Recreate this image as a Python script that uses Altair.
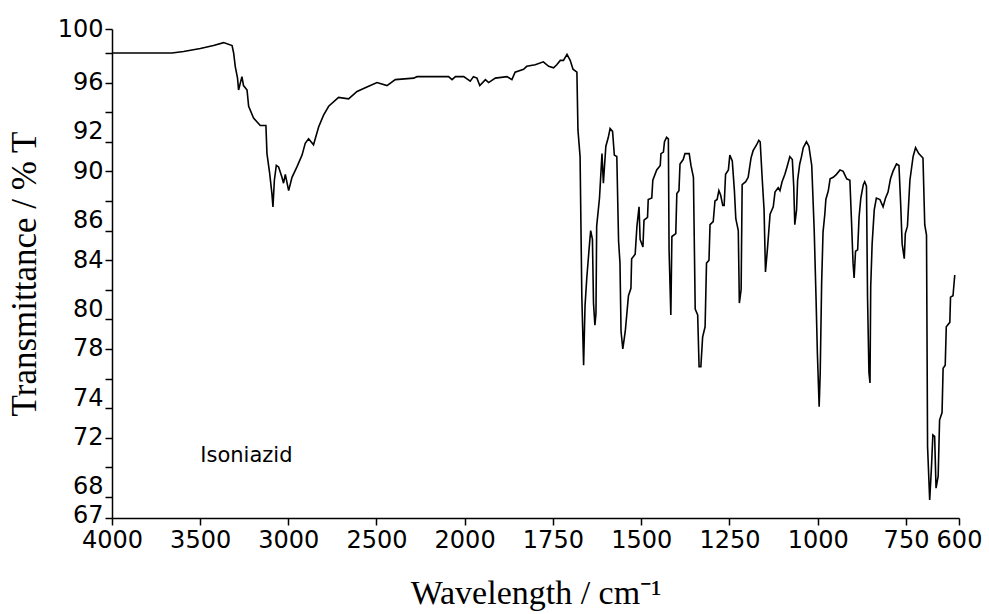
import altair as alt
import pandas as pd

# IR spectrum of isoniazid: wavenumber (cm-1) and transmittance (%T)
wavenumber = [
    4000, 3660, 3594, 3499, 3424, 3367, 3319, 3310, 3301, 3288, 3282, 3263, 3254, 3234,
    3225, 3197, 3159, 3127, 3121, 3106, 3093, 3087, 3079, 3068, 3055, 3036, 3027, 3017,
    2998, 2979, 2951, 2922, 2904, 2885, 2857, 2828, 2800, 2771, 2715, 2658, 2610, 2554,
    2497, 2440, 2393, 2289, 2270, 2091, 2071, 2052, 2005, 1984, 1975, 1965, 1957, 1941,
    1932, 1913, 1880, 1866, 1857, 1833, 1824, 1800, 1777, 1762, 1748, 1739, 1729, 1720,
    1710, 1701, 1693, 1682, 1679, 1673, 1668, 1663, 1659, 1654, 1647, 1643, 1638, 1635,
    1631, 1628, 1626, 1618, 1614, 1611, 1607, 1604, 1600, 1593, 1588, 1581, 1576, 1569,
    1564, 1560, 1557, 1552, 1545, 1536, 1529, 1527, 1517, 1512, 1506, 1503, 1495, 1492,
    1482, 1480, 1470, 1467, 1456, 1446, 1444, 1437, 1434, 1428, 1423, 1421, 1416, 1413,
    1402, 1399, 1393, 1390, 1381, 1376, 1364, 1359, 1352, 1347, 1340, 1336, 1331, 1326,
    1319, 1315, 1308, 1305, 1296, 1291, 1285, 1280, 1275, 1269, 1265, 1261, 1253, 1249,
    1242, 1236, 1232, 1225, 1222, 1217, 1214, 1204, 1197, 1189, 1183, 1173, 1167, 1163,
    1157, 1152, 1148, 1142, 1135, 1126, 1121, 1112, 1107, 1101, 1093, 1087, 1079, 1072,
    1068, 1065, 1060, 1057, 1051, 1046, 1041, 1032, 1025, 1017, 1010, 1005, 1001, 996,
    993, 989, 985, 980, 977, 970, 965, 956, 947, 937, 928, 918, 909, 904,
    900, 897, 893, 887, 883, 878, 871, 867, 862, 859, 855, 852, 850, 846,
    840, 834, 824, 815, 808, 801, 794, 787, 777, 770, 765, 761, 755, 752,
    746, 739, 730, 723, 714, 702, 697, 692, 689, 683, 678, 674, 669, 665,
    659, 655, 648, 645, 639, 636, 626, 624, 617, 612,
]
transmittance = [
    98.0, 98.0, 98.1, 98.3, 98.5, 98.7, 98.5, 98.0, 97.1, 96.3, 95.5, 96.4, 95.8, 95.5,
    94.4, 93.6, 93.1, 93.1, 91.2, 89.9, 88.5, 87.6, 89.4, 90.4, 90.3, 89.6, 89.2, 89.8,
    88.7, 89.6, 90.3, 91.1, 91.9, 92.2, 91.8, 93.0, 93.8, 94.4, 95.0, 94.9, 95.4, 95.7,
    96.0, 95.8, 96.2, 96.3, 96.4, 96.4, 96.2, 96.4, 96.4, 96.1, 96.4, 96.3, 95.8, 96.2,
    96.0, 96.3, 96.4, 96.2, 96.7, 96.9, 97.1, 97.2, 97.4, 97.1, 97.0, 97.2, 97.5, 97.5,
    97.9, 97.5, 96.9, 96.7, 92.8, 91.0, 81.5, 76.9, 80.9, 82.8, 84.9, 86.0, 85.4, 81.1,
    79.6, 80.4, 86.3, 88.2, 89.9, 91.2, 89.2, 90.3, 91.7, 92.3, 92.9, 92.7, 91.1, 91.0,
    85.3, 83.8, 79.2, 78.0, 79.2, 81.6, 82.1, 84.1, 84.4, 86.3, 87.6, 85.4, 84.9, 86.7,
    86.9, 88.1, 88.2, 89.4, 90.1, 90.4, 91.2, 91.3, 92.0, 92.3, 92.2, 84.7, 80.3, 85.6,
    85.8, 88.5, 88.7, 90.5, 90.8, 91.2, 91.2, 90.4, 89.6, 80.7, 80.3, 76.8, 76.8, 78.8,
    79.5, 83.8, 84.0, 86.4, 86.6, 88.0, 88.1, 88.7, 88.4, 87.7, 87.7, 89.8, 90.1, 91.1,
    90.7, 88.7, 86.8, 86.0, 81.1, 82.0, 89.1, 89.3, 89.6, 90.9, 91.4, 91.8, 92.1, 92.0,
    89.4, 87.4, 83.2, 84.9, 87.1, 87.6, 88.6, 88.9, 88.7, 89.3, 89.8, 90.3, 91.0, 90.8,
    89.0, 86.4, 87.4, 89.4, 90.5, 91.0, 91.6, 92.0, 91.7, 90.4, 86.0, 81.6, 77.7, 74.1,
    76.4, 82.4, 85.9, 87.1, 88.1, 88.7, 89.5, 89.6, 89.8, 90.1, 90.0, 89.5, 89.4, 86.4,
    83.8, 82.8, 84.6, 84.7, 86.9, 88.2, 89.1, 89.3, 89.0, 81.5, 76.4, 75.7, 82.2, 85.1,
    87.4, 88.2, 88.1, 87.6, 88.2, 88.6, 89.5, 90.0, 90.5, 90.4, 87.7, 85.1, 84.1, 85.8,
    86.3, 89.4, 91.0, 91.6, 91.2, 90.9, 86.4, 85.7, 71.4, 67.8, 70.0, 72.2, 72.1, 68.6,
    69.4, 73.2, 73.7, 76.7, 76.9, 79.5, 79.8, 81.5, 81.6, 83.0,
]

x_ticks = [4000, 3500, 3000, 2500, 2000, 1750, 1500, 1250, 1000, 750, 600]
y_min, y_max = 66.58, 99.62
y_ticks = [y_min] + list(range(68, 99, 2)) + [y_max]
y_hidden = [98, 94, 88, 82, 76, 70]
y_raised = [92, 86, 80, 74, 68]   # labels that sit just above their tick

sample_name = "Isoniazid"
sample_pos = (3499, 70.8)

spectrum = pd.DataFrame({
    "order": range(len(wavenumber)),
    "wavenumber": wavenumber,
    "transmittance": transmittance,
})

W, H = 847, 489
# wavenumber axis is compressed twofold above 2000 cm-1
x_scale = alt.Scale(domain=[4000, 2000, 600], range=[0, 352.6, W], nice=False, zero=False)
y_scale = alt.Scale(domain=[y_min, y_max], nice=False, zero=False)

x_axis = alt.Axis(
    values=x_ticks, format="d", title="Wavelength / cm⁻¹",
    labelFont="DejaVu Sans", labelFontSize=24, labelColor="black", labelPadding=3,
    labelFlush=False, labelOverlap=False,
    tickSize=7, tickColor="black", tickWidth=1.5, domainColor="black", domainWidth=1.5,
    grid=False, titleFont="Liberation Serif", titleFontSize=34, titleFontWeight="normal",
    titleColor="black", titlePadding=24,
)
y_axis = alt.Axis(
    values=y_ticks,
    labelExpr="indexof(" + str(y_hidden) + ", datum.value) >= 0 ? '' : format(round(datum.value), 'd')",
    labelOffset={
        "condition": [
            {"test": "indexof(" + str(y_raised) + ", datum.value) >= 0", "value": -10},
            {"test": "datum.value < 67", "value": -3},
        ],
        "value": 0,
    },
    title="Transmittance / % T",
    labelFont="DejaVu Sans", labelFontSize=24, labelColor="black", labelPadding=2,
    labelFlush=False, labelOverlap=False, labelBound=False,
    tickSize=7, tickColor="black", tickWidth=1.5, domainColor="black", domainWidth=1.5,
    grid=False, titleFont="Liberation Serif", titleFontSize=35, titleFontWeight="normal",
    titleColor="black", titlePadding=15,
)

line = alt.Chart(spectrum).mark_line(color="black", strokeWidth=1.6).encode(
    x=alt.X("wavenumber:Q", scale=x_scale, axis=x_axis),
    y=alt.Y("transmittance:Q", scale=y_scale, axis=y_axis),
    order="order:Q",
)

label = alt.Chart(
    pd.DataFrame({"name": [sample_name], "wn": [sample_pos[0]], "t": [sample_pos[1]]})
).mark_text(
    align="left", baseline="middle", font="DejaVu Sans", fontSize=21, color="black"
).encode(
    x=alt.X("wn:Q", scale=x_scale, axis=x_axis),
    y=alt.Y("t:Q", scale=y_scale, axis=y_axis),
    text="name:N",
)

chart = (line + label).properties(
    width=W, height=H,
    autosize=alt.AutoSizeParams(type="none"),
    padding={"left": 112, "top": 29, "right": 30, "bottom": 96},
    background="white",
).configure_view(stroke=None).configure_axis(labelOverlap=False)

chart.save("out.html", embed_options={"renderer": "svg", "actions": False})
